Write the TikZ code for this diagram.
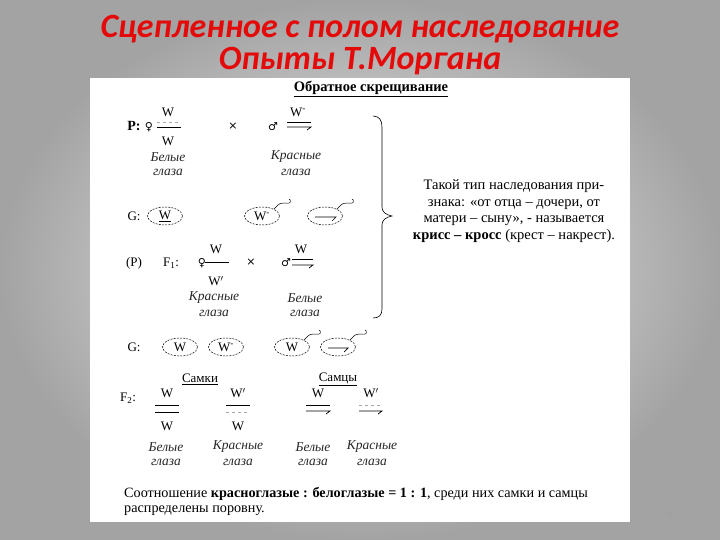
\documentclass[tikz,border=0pt]{standalone}
\usepackage{fontspec}
\setmainfont{Liberation Serif}
\newfontfamily\titlefont{Carlito}
\newfontfamily\symfont{DejaVu Sans}
\newfontfamily\pagefont{Liberation Sans}
\usetikzlibrary{shapes.geometric,calc}
\definecolor{titlered}{RGB}{228,10,10}
\begin{document}
\begin{tikzpicture}[x=1pt,y=-1pt,
  txt/.style={inner sep=0pt,font=\fontsize{14.5}{16.7}\selectfont},
  sm/.style={inner sep=0pt,font=\fontsize{13}{15}\selectfont},
  lab/.style={inner sep=0pt,font=\fontsize{13.5}{15}\itshape\selectfont,text=black!85},
  sym/.style={inner sep=0pt,font=\fontsize{11}{12}\symfont\selectfont},
  gam/.style={ellipse,draw,dashed,dash pattern=on 2pt off 1.2pt,line width=0.5pt,minimum width=35pt,minimum height=18pt,inner sep=0pt,font=\fontsize{13}{15}\selectfont},
  chr/.style={line width=0.7pt},
  chrf/.style={line width=0.5pt,dashed,black!35},
  hook/.style={line width=0.5pt},
  ttl/.style={inner sep=0pt,text=titlered,font=\fontsize{34}{38}\titlefont\bfseries\itshape\selectfont}]
\useasboundingbox (0,0) rectangle (720,540);
\shade[inner color=gray!12,outer color=gray!72] (0,0) rectangle (720,540);
% title
\node[ttl] (t1) at (360,29) {Сцепленное с полом наследование};
\node[ttl] (t2) at (360,61) {Опыты Т.Моргана};
% white sheet
\fill[white] (90,78) rectangle (630,522);
\node[txt,font=\fontsize{14.5}{16}\bfseries\selectfont] (hd) at (371,88) {Обратное скрещивание};
\draw[line width=0.6pt] ($(hd.south west)+(0,1.5)$) -- ($(hd.south east)+(0,1.5)$);
% P row
\node[txt,font=\fontsize{14}{16}\bfseries\selectfont] (P) at (134,126) {P:};
\node[sym] (pf) at (149,127) {♀};
\node[sm] (pft) at (168,112) {W};
\node[sm] (pfb) at (168,141) {W};
\draw[chrf] (157,122) -- (181,122);
\draw[chr] (157,127) -- (181,127);
\node[sym] (x1) at (233,126) {×};
\node[sym] (pm) at (273,127) {♂};
\node[sm] (pmt) at (298,112) {W\textsuperscript{-}};
\draw[chr] (287,122) -- (311,122);
\draw[chr] (287,127) -- (311,127) -- (307,130);
\node[lab] (l1a) at (168,157) {Белые};
\node[lab] (l1b) at (168,172) {глаза};
\node[lab] (l2a) at (296,157) {Красные};
\node[lab] (l2b) at (296,172) {глаза};
% G row 1
\node[sm] (G1) at (134,216) {G:};
\node[gam] (g1) at (165,216) {\underline{W}};
\node[gam] (g2) at (262,216) {W\textsuperscript{-}};
\node[gam] (g3) at (325,216) {};
\draw[chr] (315,217) -- (336,217) -- (332,221);
\draw[hook] (g2.30) .. controls +(4,-4) and +(-4,0) .. ++(9,-6) -- ++(6,0) .. controls +(2,0) and +(2,0) .. ++(0,-4);
\draw[hook] (g3.30) .. controls +(4,-4) and +(-4,0) .. ++(9,-6) -- ++(6,0) .. controls +(2,0) and +(2,0) .. ++(0,-4);
% F1 row
\node[sm] (Pp) at (134,263) {(P)};
\node[sm] (F1) at (171,263) {F\textsubscript{1}:};
\node[sym] (ff) at (202,263) {♀};
\node[sm] (fft) at (216,249) {W};
\draw[chr] (205,262) -- (229,262);
\node[sm] (ffb) at (216,281) {W$'$};
\node[sym] (x2) at (251,262) {×};
\node[sym] (fm) at (286,263) {♂};
\node[sm] (fmt) at (301,249) {W};
\draw[chr] (292,259) -- (313,259);
\draw[chr] (292,265) -- (313,265) -- (309,268);
\node[lab] (l3a) at (214,298) {Красные};
\node[lab] (l3b) at (214,313) {глаза};
\node[lab] (l4a) at (305,298) {Белые};
\node[lab] (l4b) at (305,313) {глаза};
% brace
\draw[line width=0.6pt] (373,116) .. controls (379,116) and (382,120) .. (382,127) -- (382,207) .. controls (382,212) and (386,215) .. (392,216) .. controls (386,217) and (382,220) .. (382,225) -- (382,309) .. controls (382,315) and (379,318) .. (373,318);
\node[txt,align=center] (expl) at (514,211) {Такой тип наследования при-\\знака: «от отца – дочери, от\\матери – сыну», - называется\\\textbf{крисс – кросс} (крест – накрест).};
% G row 2
\node[sm] (G2) at (134,347) {G:};
\node[gam] (h1) at (180,347) {W};
\node[gam] (h2) at (226,347) {W\textsuperscript{-}};
\node[gam] (h3) at (292,347) {W};
\node[gam] (h4) at (338,347) {};
\draw[chr] (328,348) -- (348,348) -- (344,352);
\draw[hook] (h3.30) .. controls +(4,-4) and +(-4,0) .. ++(9,-6) -- ++(6,0) .. controls +(2,0) and +(2,0) .. ++(0,-4);
\draw[hook] (h4.30) .. controls +(4,-4) and +(-4,0) .. ++(9,-6) -- ++(6,0) .. controls +(2,0) and +(2,0) .. ++(0,-4);
% F2
\node[sm] (sk) at (200,379) {\underline{Самки}};
\node[sm] (sc) at (338,379) {\underline{Самцы}};
\node[sm] (F2) at (128,398) {F\textsubscript{2}:};
\node[sm] (a1) at (167,393) {W};
\draw[chr] (155,405) -- (179,405);
\draw[chr] (155,412) -- (179,412);
\node[sm] (a2) at (167,426) {W};
\node[sm] (b1) at (238,393) {W$'$};
\draw[chr] (226,405) -- (250,405);
\draw[chrf] (226,412) -- (250,412);
\node[sm] (b2) at (238,426) {W};
\node[sm] (c1) at (318,393) {W};
\draw[chr] (306,405) -- (330,405);
\draw[chr] (306,411) -- (330,411) -- (326,414);
\node[sm] (d1) at (371,393) {W$'$};
\draw[chrf] (359,405) -- (382,405);
\draw[chr] (359,411) -- (382,411) -- (378,414);
\node[lab] (m1a) at (166,447) {Белые};
\node[lab] (m1b) at (166,462) {глаза};
\node[lab] (m2a) at (238,447) {Красные};
\node[lab] (m2b) at (238,462) {глаза};
\node[lab] (m3a) at (313,447) {Белые};
\node[lab] (m3b) at (313,462) {глаза};
\node[lab] (m4a) at (372,447) {Красные};
\node[lab] (m4b) at (372,462) {глаза};
% bottom text
\node[txt,anchor=west,font=\fontsize{14.2}{16}\selectfont] (r1) at (124,494) {Соотношение \textbf{красноглазые : белоглазые = 1 : 1}, среди них самки и самцы};
\node[txt,anchor=west,font=\fontsize{14.2}{16}\selectfont] (r2) at (124,511) {распределены поровну.};
% page number
\node[inner sep=0pt,text=gray!75,font=\fontsize{9}{10}\pagefont\selectfont] (pg) at (672,514) {97};
\end{tikzpicture}
\end{document}
